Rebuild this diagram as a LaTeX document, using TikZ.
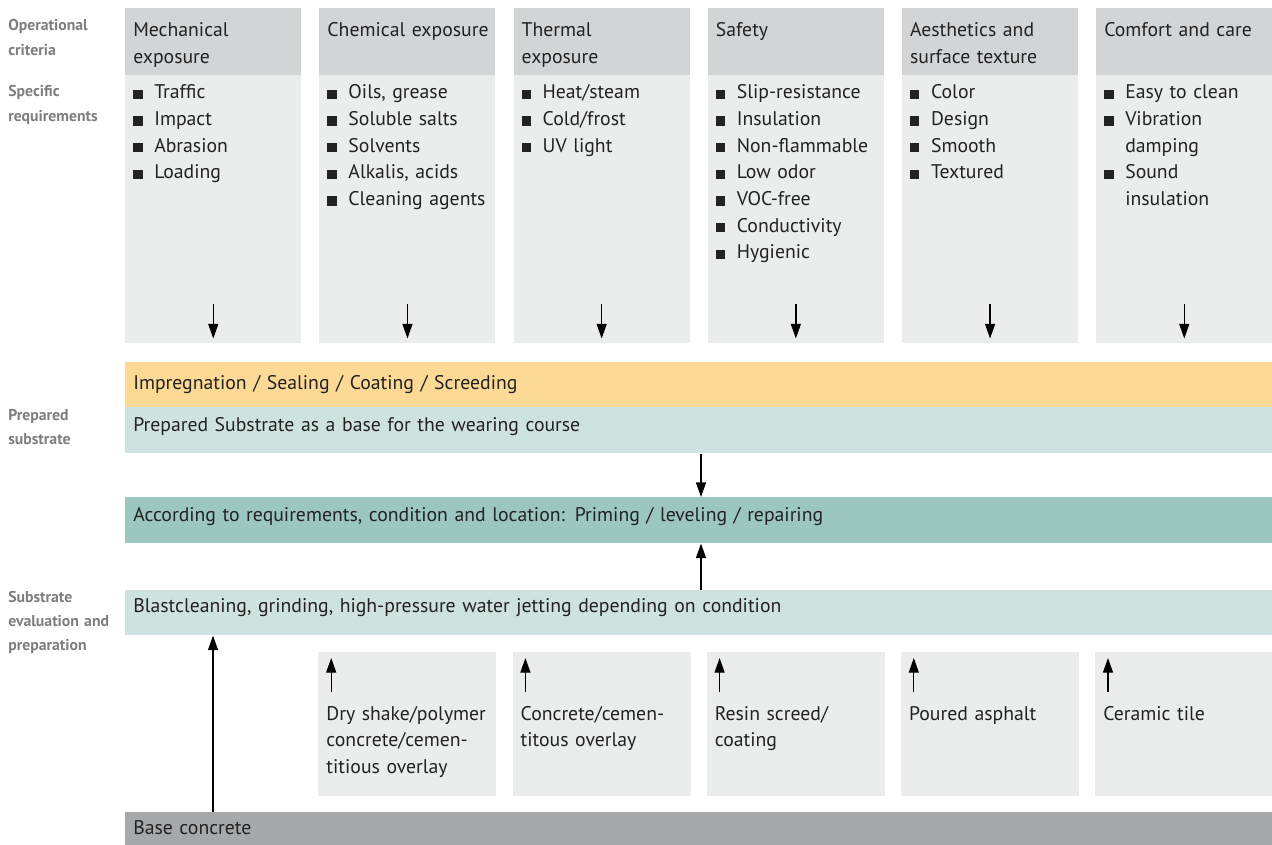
\documentclass[tikz,border=0pt]{standalone}
\usepackage{fontspec}
\setmainfont{PT Sans}
\usetikzlibrary{positioning,arrows.meta,calc}
\definecolor{flHead}{HTML}{D3D4D6}
\definecolor{flBody}{HTML}{EBECEC}
\definecolor{flOrange}{HTML}{FDD996}
\definecolor{flTealLt}{HTML}{CEE2DF}
\definecolor{flTeal}{HTML}{9CC7C0}
\definecolor{flBase}{HTML}{A7A8AA}
\definecolor{flSide}{HTML}{7D7E81}
\definecolor{flInk}{HTML}{222222}
\newdimen\px \px=0.75pt
\newcommand\itm{\makebox[15.75pt][l]{\rule{7pt}{7pt}}}
\newcommand\cont{\hspace*{15.75pt}}
\tikzset{
  headbox/.style={fill=flHead, anchor=north west, inner sep=0pt,
    minimum width=176\px, minimum height=67\px},
  bodybox/.style={fill=flBody, anchor=north west, inner sep=0pt,
    minimum width=176\px, minimum height=268\px},
  ovbox/.style={fill=flBody, anchor=north west, inner sep=0pt,
    minimum width=178\px, minimum height=144\px},
  band/.style={anchor=north west, inner sep=0pt,
    minimum width=1147\px, minimum height=#1\px},
  band/.default=46,
  cell/.style={anchor=base west, inner sep=0pt, text width=#1\px, align=left,
    text=flInk, font=\fontsize{14.8}{20}\selectfont},
  cell/.default=168,
  side/.style={anchor=base west, inner sep=0pt, text width=112\px, align=left,
    text=flSide, font=\bfseries\fontsize{11.8}{18.2}\selectfont},
  link/.style={draw=black, line width=1pt, -{Triangle[length=11pt,width=7.5pt]}},
}
\begin{document}
\begin{tikzpicture}[x=0.75pt, y=-0.75pt]

\useasboundingbox (0,0) rectangle (1272,845);

% criteria columns
\foreach \i in {1,...,6} {
  \pgfmathsetmacro\cx{125+(\i-1)*194.2}
  \node[headbox] (hd\i) at (\cx,8) {};
  \node[bodybox] (bd\i) at (\cx,75) {};
  \draw[link] ([yshift=40\px]bd\i.south) -- ([yshift=5\px]bd\i.south);
}

\foreach \i/\t in {1/{Mechanical\\exposure}, 2/{Chemical exposure}, 3/{Thermal\\exposure},
                   4/{Safety}, 5/{Aesthetics and\\surface texture}, 6/{Comfort and care}} {
  \node[cell] (ht\i) at ($(hd\i.north west)+(8,29)$) {\t};
}

\node[cell] (rq1) at ($(bd1.north west)+(8,24)$)
  {\itm Traffic\\ \itm Impact\\ \itm Abrasion\\ \itm Loading};
\node[cell] (rq2) at ($(bd2.north west)+(8,24)$)
  {\itm Oils, grease\\ \itm Soluble salts\\ \itm Solvents\\ \itm Alkalis, acids\\ \itm Cleaning agents};
\node[cell] (rq3) at ($(bd3.north west)+(8,24)$)
  {\itm Heat/steam\\ \itm Cold/frost\\ \itm UV light};
\node[cell] (rq4) at ($(bd4.north west)+(8,24)$)
  {\itm Slip-resistance\\ \itm Insulation\\ \itm Non-flammable\\ \itm Low odor\\
   \itm VOC-free\\ \itm Conductivity\\ \itm Hygienic};
\node[cell] (rq5) at ($(bd5.north west)+(8,24)$)
  {\itm Color\\ \itm Design\\ \itm Smooth\\ \itm Textured};
\node[cell] (rq6) at ($(bd6.north west)+(8,24)$)
  {\itm Easy to clean\\ \itm Vibration\\ \cont damping\\ \itm Sound\\ \cont insulation};

% layers
\node[band=45, fill=flOrange] (impreg) at (125,362) {};
\node[band, fill=flTealLt] (prep) at (125,407) {};
\node[band, fill=flTeal] (prime) at (125,497) {};
\node[band=45, fill=flTealLt] (blast) at (125,590) {};
\node[band=33, fill=flBase] (base) at (125,812) {};

\node[cell=1100] (impregtxt) at ($(impreg.north west)+(8,27)$) {Impregnation / Sealing / Coating / Screeding};
\node[cell=1100] (preptxt) at ($(prep.north west)+(8,24)$) {Prepared Substrate as a base for the wearing course};
\node[cell=1100] (primetxt) at ($(prime.north west)+(8,24)$) {According to requirements, condition and location: Priming / leveling / repairing};
\node[cell=1100] (blasttxt) at ($(blast.north west)+(8,22)$) {Blastcleaning, grinding, high-pressure water jetting depending on condition};
\node[cell=1100] (basetxt) at ($(base.north west)+(8,22)$) {Base concrete};

% overlay systems
\foreach \i/\t in {1/{Dry shake/polymer\\concrete/cemen-\\titious overlay}, 2/{Concrete/cemen-\\titous overlay},
                   3/{Resin screed/\\coating}, 4/{Poured asphalt}, 5/{Ceramic tile}} {
  \pgfmathsetmacro\cx{125+\i*194.2-1}
  \node[ovbox] (ov\i) at (\cx,652) {};
  \node[cell] (ovtxt\i) at ($(ov\i.north west)+(8,68)$) {\t};
  \draw[link] ($(ov\i.north west)+(13,40)$) -- ($(ov\i.north west)+(13,6)$);
}

% connectors between layers
\coordinate (axis) at (701,0);
\coordinate (feed) at (213,0);
\draw[link] (prep.south -| axis) -- (prime.north -| axis);
\draw[link] (blast.north -| axis) -- (prime.south -| axis);
\draw[link] (base.north -| feed) -- (blast.south -| feed);

% row labels
\node[side] (lbOp) at (8,31) {Operational\\criteria};
\node[side] (lbReq) at (8,97) {Specific\\requirements};
\node[side] (lbPrep) at (8,420) {Prepared\\substrate};
\node[side] (lbEval) at (8,602) {Substrate\\evaluation and\\preparation};

\end{tikzpicture}
\end{document}
